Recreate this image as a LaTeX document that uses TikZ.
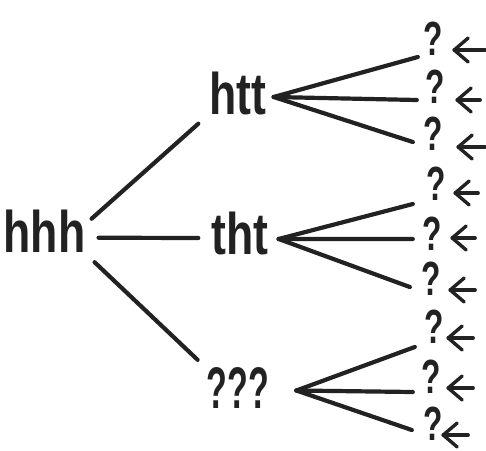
\documentclass[tikz,border=0pt]{standalone}
\usepackage{fontspec}
% hand-lettered look: narrow, heavy sans
\newfontfamily\handfont[FakeStretch=0.76]{Liberation Sans Bold}
\newfontfamily\qqqfont[FakeStretch=0.58]{Liberation Sans Bold}
\newfontfamily\leaffont[FakeStretch=0.66]{Liberation Sans Bold}
\definecolor{ink}{HTML}{222222}

\begin{document}
\begin{tikzpicture}[x=1pt,y=-1pt,
  state/.style={font={\handfont\fontsize{58.7}{60}\selectfont}, text=ink, inner sep=6pt, anchor=base},
  unknown/.style={font={\qqqfont\fontsize{58.7}{60}\selectfont}, text=ink, inner sep=6pt, anchor=base},
  leaf/.style={font={\leaffont\fontsize{48}{50}\selectfont}, text=ink, inner xsep=0pt, inner ysep=2pt,
               minimum width=32pt, anchor=base},
  branch/.style={draw=ink, line width=4.2pt, line cap=round},
  pointer/.style={draw=ink, line width=3.4pt, line cap=round, line join=round}]
\useasboundingbox (0,0) rectangle (486,450);

% first level
\node[state] (hhh) at (44.5,252) {hhh};
\node[state] (htt) at (238,114) {htt};
\node[state] (tht) at (240,254) {tht};
\node[unknown] (qqq) at (238,408) {???};

\draw[branch] ([shift={(0,-12)}]hhh.east) -- ([shift={(-5,3)}]htt.south west);
\draw[branch] ([shift={(7,7)}]hhh.east) -- ([shift={(-7,5)}]tht.west);
\draw[branch] ([shift={(3,4)}]hhh.south east) -- ([shift={(-3,-1)}]qqq.north west);

% fan apexes
\coordinate (a1) at ([shift={(1,4)}]htt.east);
\coordinate (a2) at ([shift={(4,6)}]tht.east);
\coordinate (a3) at ([shift={(21,3)}]qqq.east);

% leaves: name / x / y / line-end shift / arrow-tip shift / arrow length / apex
\foreach \n/\px/\py/\lx/\ly/\ax/\ay/\al/\ap in {
  q1/433/55/1/2/5/-5/31/a1,
  q2/435/103/-2/-3/6/-3/23/a1,
  q3/433/150/-4/-8/9/-3/27/a1,
  q4/436/200/-7/4/3/-7/23/a2,
  q5/432/250/-3/-11/4/-12/23/a2,
  q6/431/295/-5/-8/3/-5/25/a2,
  q7/434/343/-3/4/-2/-5/25/a3,
  q8/431/393/-2/-1/1/-5/25/a3,
  q9/433/440/-5/-10/-6/-5/25/a3}{
  \node[leaf] (\n) at (\px,\py) {?};
  \draw[branch] (\ap) -- ([shift={(\lx,\ly)}]\n.base west);
  % pointer: shaft plus an open barbed head
  \coordinate (h\n) at ([shift={(\ax,\ay)}]\n.base east);
  \coordinate (t\n) at ([shift={(\ax+\al,\ay)}]\n.base east);
  \draw[pointer] (t\n) -- (h\n);
  \draw[pointer] ([shift={(14,-12)}]h\n) -- (h\n) -- ([shift={(14,12)}]h\n);
}
\end{tikzpicture}
\end{document}
